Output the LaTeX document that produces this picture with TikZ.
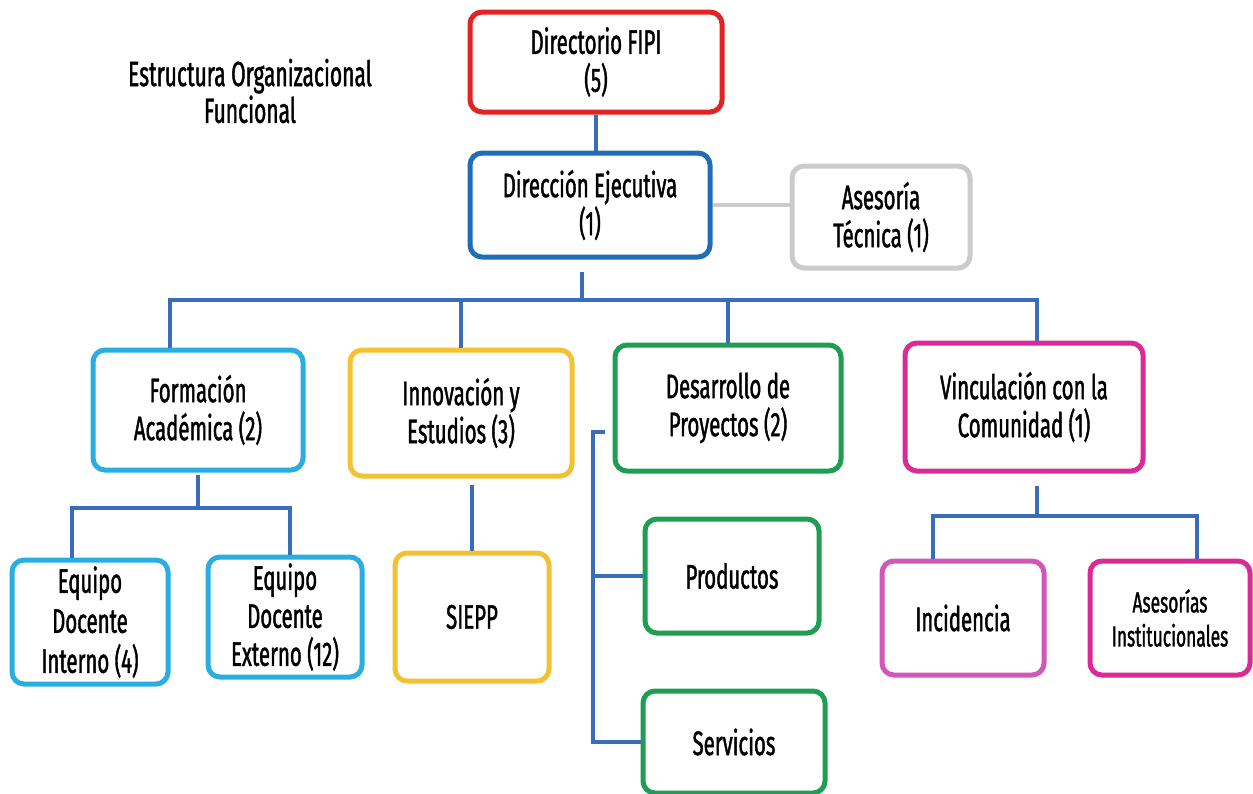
\documentclass[tikz,border=0pt]{standalone}
\usepackage{fontspec}
\setmainfont{Fira Sans}[FakeStretch=0.6, FakeBold=1.2]
\usepackage{tikz}

\definecolor{fipiRed}{HTML}{E02424}
\definecolor{ejecBlue}{HTML}{1F6DB5}
\definecolor{asesGray}{HTML}{CBCBCB}
\definecolor{formCyan}{HTML}{2AAEE0}
\definecolor{innoYellow}{HTML}{F2C232}
\definecolor{desaGreen}{HTML}{1E9E52}
\definecolor{vincMagenta}{HTML}{DA2A98}
\definecolor{inciMagenta}{HTML}{D257B8}
\definecolor{linkBlue}{HTML}{3A6CB8}

\begin{document}
\begin{tikzpicture}[x=0.5pt, y=-0.5pt, every node/.style={align=center, font=\fontsize{17}{19}\selectfont},
  box/.style={draw, fill=white, rounded corners=6pt, line width=2.5pt, inner sep=0pt},
  link/.style={draw=linkBlue, line width=2pt}]
  \useasboundingbox (0,0) rectangle (1253,793);
  \node [font=\fontsize{17.5}{17}\selectfont] (title) at (250,91) {Estructura Organizacional\\Funcional};
  \node [box, draw=fipiRed, minimum width=126pt, minimum height=50pt] (fipi) at (596,62) {Directorio FIPI\\(5)};
  \node [box, draw=ejecBlue, minimum width=120pt, minimum height=52pt] (ejec) at (590,205) {Dirección Ejecutiva\\(1)};
  \node [box, draw=asesGray, minimum width=89pt, minimum height=51pt] (tecn) at (881,217) {Asesoría\\Técnica (1)};
  \node [box, draw=formCyan, minimum width=105pt, minimum height=60pt] (form) at (198,410) {Formación\\Académica (2)};
  \node [box, draw=innoYellow, minimum width=111pt, minimum height=63pt] (inno) at (461,413) {Innovación y\\Estudios (3)};
  \node [box, draw=desaGreen, minimum width=113pt, minimum height=63pt] (desa) at (728,408) {Desarrollo de\\Proyectos (2)};
  \node [box, draw=vincMagenta, minimum width=119pt, minimum height=64pt] (vinc) at (1024,407) {Vinculación con la\\Comunidad (1)};
  \node [box, draw=formCyan, minimum width=78pt, minimum height=62pt, font=\fontsize{17}{20}\selectfont] (dint) at (90,622) {Equipo\\Docente\\Interno (4)};
  \node [box, draw=formCyan, minimum width=77pt, minimum height=60pt, font=\fontsize{17}{19}\selectfont] (dext) at (285,617) {Equipo\\Docente\\Externo (12)};
  \node [box, draw=innoYellow, minimum width=77pt, minimum height=64pt] (siepp) at (472,617) {SIEPP};
  \node [box, draw=desaGreen, minimum width=87pt, minimum height=57pt] (prod) at (732,576) {Productos};
  \node [box, draw=desaGreen, minimum width=91pt, minimum height=51pt] (serv) at (734,742) {Servicios};
  \node [box, draw=inciMagenta, minimum width=81pt, minimum height=57pt] (inci) at (963,618) {Incidencia};
  \node [box, draw=vincMagenta, minimum width=80pt, minimum height=57pt, font=\fontsize{14.5}{17}\selectfont] (aseI) at (1170,618) {Asesorías\\Institucionales};
  \coordinate (bus) at (582,300);
  \coordinate (formBus) at (198,508);
  \coordinate (desaBar) at (593,432);
  \coordinate (vincBus) at (1037,516);
  \draw [link] (fipi.south) -- (fipi.south |- ejec.north);
  \draw [draw=asesGray, line width=2pt] (ejec.east) -- (ejec.east -| tecn.west);
  \draw [link] (ejec.south -| bus) ++(0,12) -- (bus);
  \draw [link] ([xshift=-14pt]form.north) |- (bus) -| ([xshift=6.5pt]vinc.north);
  \draw [link] (inno.north |- bus) -- (inno.north);
  \draw [link] (desa.north |- bus) -- (desa.north);
  \draw [link] (form.south) ++(0,2) -- (formBus);
  \draw [link] ([xshift=-9pt]dint.north) |- (formBus) -| ([xshift=2.5pt]dext.north);
  \draw [link] (siepp.north |- inno.south) ++(0,6) -- (siepp.north);
  \draw [link] (desaBar) ++(12,0) -- (desaBar) |- (serv.west);
  \draw [link] (desaBar |- prod.west) -- (prod.west);
  \draw [link] (vincBus |- vinc.south) ++(0,12) -- (vincBus);
  \draw [link] ([xshift=-15pt]inci.north) |- (vincBus) -| ([xshift=13.5pt]aseI.north);
\end{tikzpicture}
\end{document}
